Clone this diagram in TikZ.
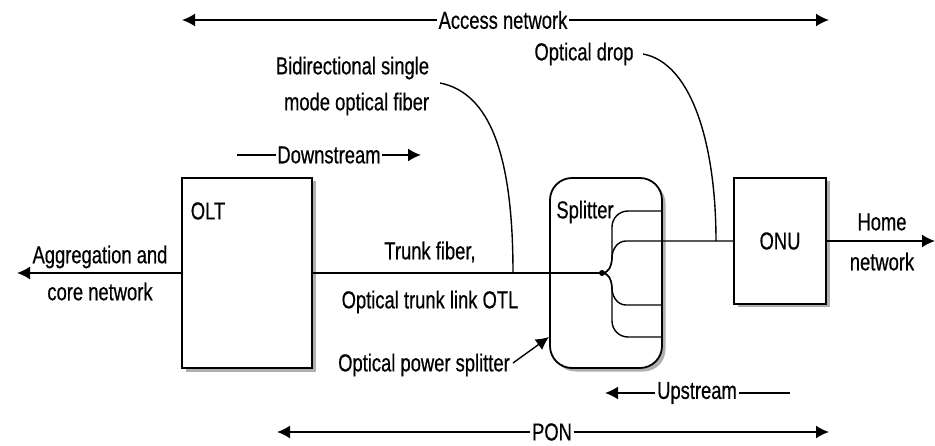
\documentclass[tikz,border=0pt]{standalone}
\usepackage{fontspec}
\setmainfont[FakeStretch=0.75,FakeBold=0.5]{Liberation Sans}
\usetikzlibrary{arrows.meta,shadows}

\begin{document}
\begin{tikzpicture}[x=1pt, y=1pt, line width=1.8pt,
    every node/.style={font=\fontsize{24.5}{36}\selectfont, inner sep=1pt},
    box/.style={draw, fill=white, drop shadow={shadow xshift=3.5pt, shadow yshift=-3.5pt, fill=black!35, opacity=0.9}},
    tip/.style={-{Latex[length=13pt,width=13pt]}},
    fiber/.style={line width=1.4pt}]
  \useasboundingbox (0,0) rectangle (935,445);
  \node[box, minimum width=130pt, minimum height=190pt] (olt) at (247,172) {};
  \node (oltlbl) at (208,234) {OLT};
  \node[box, rounded corners=22pt, minimum width=112pt, minimum height=190pt] (splitter) at (606,172) {};
  \node (splbl) at (585,233) {Splitter};
  \node[box, minimum width=92pt, minimum height=126pt] (onu) at (780,204) {ONU};
  \node[align=center, font=\fontsize{24.5}{37}\selectfont] (agg) at (100,172) {Aggregation and\\core network};
  \node[align=center, font=\fontsize{24.5}{40}\selectfont] (home) at (882,203) {Home\\network};
  \node[anchor=east, align=right] (bidi) at (431,359) {Bidirectional single\\mode optical fiber};
  \node (drop) at (584,391) {Optical drop};
  \node (trunk) at (430,193) {Trunk fiber,};
  \node (otl) at (430,143) {Optical trunk link OTL};
  \node (power) at (424,80) {Optical power splitter};
  \node (access) at (503,425) {Access network};
  \node (down) at (329,290) {Downstream};
  \node (up) at (697,52) {Upstream};
  \node (pon) at (552,13) {PON};
  \coordinate (hub) at (602,172);
  \coordinate (aggL) at (17,172);
  \coordinate (homeR) at (935,204);
  \coordinate (accL) at (182,425);
  \coordinate (accR) at (829,425);
  \coordinate (dsL) at (237,290);
  \coordinate (dsR) at (421,290);
  \coordinate (usL) at (605,52);
  \coordinate (usR) at (790,52);
  \coordinate (ponL) at (277,13);
  \coordinate (ponR) at (829,13);
  \coordinate (fibS) at (440,362);
  \coordinate (fibE) at (513,172);
  \coordinate (dropS) at (643,391);
  \coordinate (dropE) at (716,204);
  \coordinate (psS) at (513,82);
  \coordinate (psE) at (549,108);
  \coordinate (r1) at (661,234);
  \coordinate (r3) at (661,140);
  \coordinate (r4) at (661,108);
  \draw[tip] (access) -- (accL);
  \draw[tip] (access) -- (accR);
  \draw (dsL) -- (down);
  \draw[tip] (down) -- (dsR);
  \draw[tip] (up) -- (usL);
  \draw (up) -- (usR);
  \draw[tip] (pon) -- (ponL);
  \draw[tip] (pon) -- (ponR);
  \draw[tip] (olt.west) -- (aggL);
  \draw (olt.east) -- (hub);
  \draw[tip] (onu.east) -- (homeR);
  \draw[fiber] (hub) to[out=0,in=-90] (612,189) -- (612,218) to[out=90,in=180] (628,234) -- (r1);
  \draw[fiber] (hub) to[out=0,in=-90] (612,187) to[out=90,in=180] (626,204) -- (onu.west);
  \draw[fiber] (hub) to[out=0,in=90] (612,157) to[out=-90,in=180] (626,140) -- (r3);
  \draw[fiber] (hub) to[out=0,in=90] (612,155) -- (612,124) to[out=-90,in=180] (628,108) -- (r4);
  \fill (hub) circle (3pt);
  \draw[fiber] (fibS) .. controls (490,352) and (513,290) .. (fibE);
  \draw[fiber] (dropS) .. controls (692,382) and (716,300) .. (dropE);
  \draw[fiber, tip] (psS) -- (psE);
\end{tikzpicture}
\end{document}
